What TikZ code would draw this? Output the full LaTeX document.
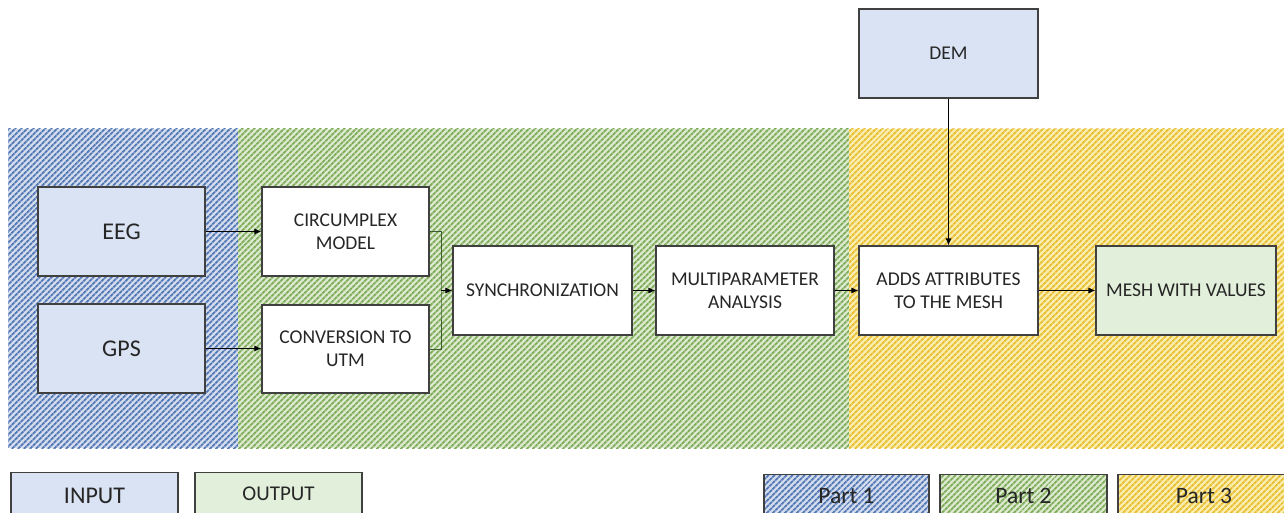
\documentclass[tikz,border=0pt]{standalone}
\usepackage{fontspec}
\setmainfont{Carlito}
\usetikzlibrary{patterns.meta,arrows.meta}
\definecolor{bstripe}{HTML}{5579B4}
\definecolor{blight}{HTML}{D3DDEE}
\definecolor{gstripe}{HTML}{7FAD5C}
\definecolor{glight}{HTML}{DDEACF}
\definecolor{ystripe}{HTML}{E8BE32}
\definecolor{ylight}{HTML}{FAEDB0}
\definecolor{inblue}{HTML}{DAE3F3}
\definecolor{outgreen}{HTML}{E2EFDA}
\definecolor{boxline}{HTML}{404040}
\definecolor{txt}{HTML}{262626}
\definecolor{brk}{HTML}{3E5A32}
\tikzset{
  box/.style={draw=boxline, line width=1.1pt, rectangle, align=center, text=txt, font=\fontsize{19.5}{23}\selectfont, inner sep=2pt},
  inbox/.style={box, fill=inblue, font=\fontsize{24}{28}\selectfont},
  whitebox/.style={box, fill=white},
  conn/.style={draw=black, line width=0.9pt, -{Latex[length=7pt,width=6pt]}},
  bandblue/.style={preaction={fill=blight}, pattern={Lines[angle=45,distance=4pt,line width=2pt]}, pattern color=bstripe},
  bandgreen/.style={preaction={fill=glight}, pattern={Lines[angle=45,distance=4pt,line width=2pt]}, pattern color=gstripe},
  bandyellow/.style={preaction={fill=ylight}, pattern={Lines[angle=45,distance=4pt,line width=2pt]}, pattern color=ystripe},
}
\begin{document}
\begin{tikzpicture}[x=1pt,y=-1pt]
\useasboundingbox (0,0) rectangle (1284,513);
\clip (0,0) rectangle (1284,513);
% bands
\fill[bandblue] (8,129) rectangle (238,448);
\fill[bandgreen] (238,129) rectangle (849,448);
\fill[bandyellow] (849,129) rectangle (1284,448);
% nodes
\node[inbox, minimum width=167, minimum height=89] (eeg) at (121.5,231.5) {EEG};
\node[inbox, minimum width=167, minimum height=89] (gps) at (121.5,348.5) {GPS};
\node[whitebox, minimum width=167, minimum height=89] (circ) at (345.5,231.5) {CIRCUMPLEX\\MODEL};
\node[whitebox, minimum width=167, minimum height=88] (conv) at (345.5,349) {CONVERSION TO\\UTM};
\node[whitebox, minimum width=179, minimum height=89] (sync) at (542.5,290.5) {SYNCHRONIZATION};
\node[whitebox, minimum width=178, minimum height=89] (multi) at (745,290.5) {MULTIPARAMETER\\ANALYSIS};
\node[whitebox, minimum width=179, minimum height=89] (adds) at (948.5,290.5) {ADDS ATTRIBUTES\\TO THE MESH};
\node[box, fill=outgreen, minimum width=180, minimum height=89] (mesh) at (1186,290.5) {MESH WITH VALUES};
\node[box, fill=inblue, minimum width=179, minimum height=89] (dem) at (948.5,53.5) {DEM};
% connectors
\coordinate (join) at (441,290.5);
\draw[conn] (eeg.east) -- (circ.west);
\draw[conn] (gps.east) -- (conv.west |- gps.east);
\draw[draw=brk, line width=1pt] (circ.east) -| (join) |- (conv.east);
\draw[conn] (join) -- (sync.west);
\draw[conn] (sync) -- (multi);
\draw[conn] (multi) -- (adds);
\draw[conn] (adds) -- (mesh);
\draw[conn] (dem) -- (adds);
% legend
\node[inbox, minimum width=167, minimum height=50, anchor=north, text depth=4pt] (lin) at (94.5,472) {INPUT};
\node[box, fill=outgreen, minimum width=167, minimum height=50, anchor=north, text depth=8pt, font=\fontsize{21}{24}\selectfont] (lout) at (278.5,472) {OUTPUT};
\node[box, bandblue, minimum width=165, minimum height=48, anchor=north, text depth=6pt, font=\fontsize{23.5}{26}\selectfont] (p1) at (846.5,474) {Part 1};
\node[box, bandgreen, minimum width=167, minimum height=48, anchor=north, text depth=6pt, font=\fontsize{23.5}{26}\selectfont] (p2) at (1023.5,474) {Part 2};
\node[box, bandyellow, minimum width=172, minimum height=48, anchor=north, text depth=6pt, font=\fontsize{23.5}{26}\selectfont] (p3) at (1204,474) {Part 3};
\end{tikzpicture}
\end{document}
